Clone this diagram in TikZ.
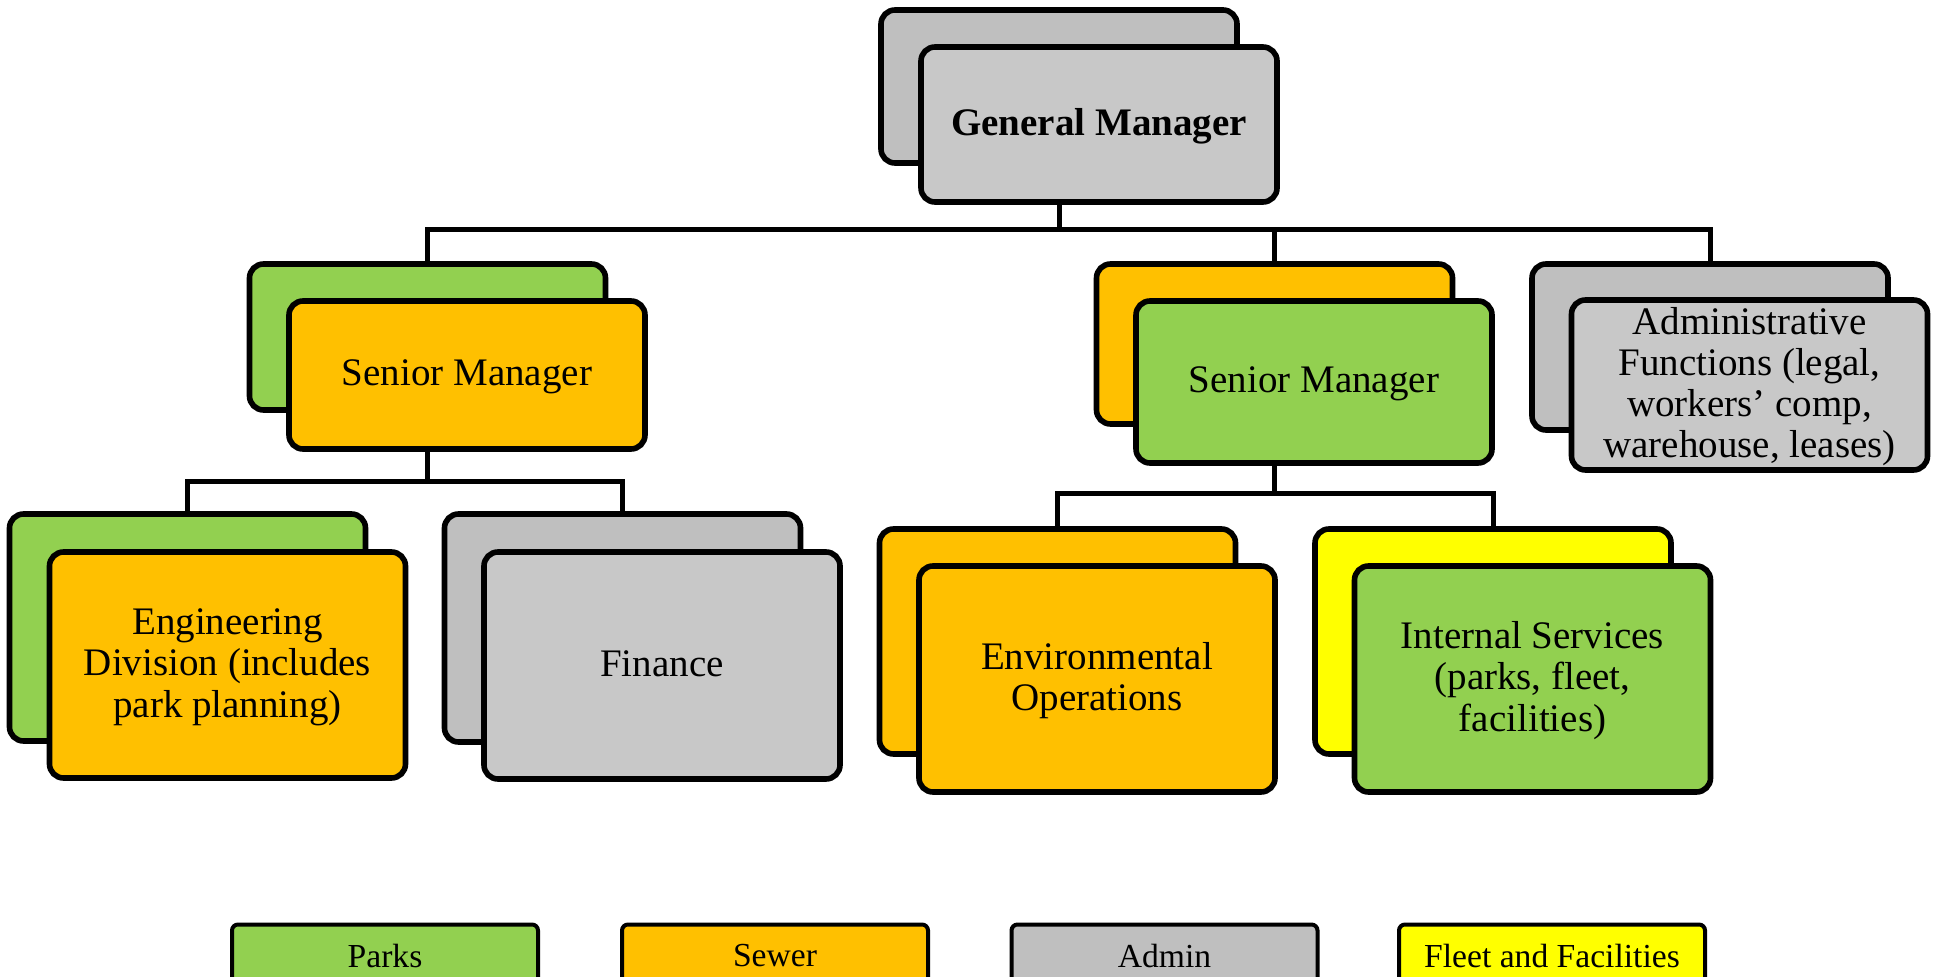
\documentclass[tikz,border=0pt]{standalone}
\usepackage{fontspec}
\setmainfont{Liberation Serif}
\definecolor{parks}{HTML}{92D050}
\definecolor{sewer}{HTML}{FFC000}
\definecolor{adminback}{HTML}{BFBFBF}
\definecolor{adminfront}{HTML}{C8C8C8}
\definecolor{fleet}{HTML}{FFFF00}
\newcommand\mybt[1]{\raisebox{0pt}[\dimexpr\height+2.6pt\relax][\depth]{\begin{tabular}{@{}c@{}}#1\end{tabular}}}
\tikzset{
  box/.style={draw=black, line width=2.8pt, rounded corners=7pt, minimum width=178pt,
    inner sep=0pt, align=center, font=\fontsize{19.5}{20.6}\selectfont},
  conn/.style={line width=2.5pt, draw=black},
  legendbox/.style={draw=black, line width=2pt, rounded corners=3pt, minimum width=153pt,
    minimum height=31.5pt, inner sep=0pt, font=\fontsize{16.8}{18}\selectfont}
}
\begin{document}
\begin{tikzpicture}[x=0.5pt,y=-0.5pt]
\fill[white] (0,0) rectangle (1937,977);
\useasboundingbox (0,0) rectangle (1937,977);

% General Manager
\node[box, fill=adminback, minimum height=76.5pt] (gmb) at (1059,86.5) {};
\node[box, fill=adminfront, minimum height=77.5pt,
  font=\fontsize{19.5}{20.6}\selectfont\bfseries] (gmf) at (1099,124.5) {\mybt{General Manager}};

% Senior Manager left
\node[box, fill=parks, minimum height=73pt] (smlb) at (427.5,337) {};
\node[box, fill=sewer, minimum height=74pt] (smlf) at (467,375) {\mybt{Senior Manager}};

% Senior Manager right
\node[box, fill=sewer, minimum height=80pt] (smrb) at (1274.5,344) {};
\node[box, fill=parks, minimum height=81pt] (smrf) at (1314,382) {\mybt{Senior Manager}};

% Administrative functions
\node[box, fill=adminback, minimum height=83pt] (admb) at (1710,347) {};
\node[box, fill=adminfront, minimum height=83pt] (admf) at (1749.5,385)
  {\mybt{Administrative\\Functions (legal,\\workers’ comp,\\warehouse, leases)}};

% Engineering
\node[box, fill=parks, minimum height=113.5pt] (engb) at (187.5,627.5) {};
\node[box, fill=sewer, minimum height=113pt] (engf) at (227.5,665)
  {\mybt{Engineering\\Division (includes\\park planning)}};

% Finance
\node[box, fill=adminback, minimum height=114pt] (finb) at (622.5,628) {};
\node[box, fill=adminfront, minimum height=113.5pt] (finf) at (662,665.5) {\mybt{Finance}};

% Environmental Operations
\node[box, fill=sewer, minimum height=112.5pt] (envb) at (1057.5,641.5) {};
\node[box, fill=sewer, minimum height=113pt] (envf) at (1097,679)
  {\mybt{Environmental\\Operations}};

% Internal Services
\node[box, fill=fleet, minimum height=112.5pt] (intb) at (1493,641.5) {};
\node[box, fill=parks, minimum height=113pt] (intf) at (1532.5,679)
  {\mybt{Internal Services\\(parks, fleet,\\facilities)}};

% connectors
\coordinate (bus) at (1059,230);
\draw[conn] (gmb.center |- gmf.south) -- (bus);
\draw[conn] (bus) -| (smlb.north);
\draw[conn] (bus) -| (smrb.north);
\draw[conn] (bus) -| (admb.north);

\coordinate (busl) at (427.5,482);
\draw[conn] (smlb.center |- smlf.south) -- (busl);
\draw[conn] (busl) -| (engb.north);
\draw[conn] (busl) -| (finb.north);

\coordinate (busr) at (1274.5,494);
\draw[conn] (smrb.center |- smrf.south) -- (busr);
\draw[conn] (busr) -| (envb.north);
\draw[conn] (busr) -| (intb.north);

% legend
\node[legendbox, fill=parks] (lpark) at (385,956) {Parks};
\node[legendbox, fill=sewer] (lsewer) at (775,956) {Sewer};
\node[legendbox, fill=adminback] (ladmin) at (1164.5,956) {Admin};
\node[legendbox, fill=fleet] (lfleet) at (1552,956) {Fleet and Facilities};
\end{tikzpicture}
\end{document}
